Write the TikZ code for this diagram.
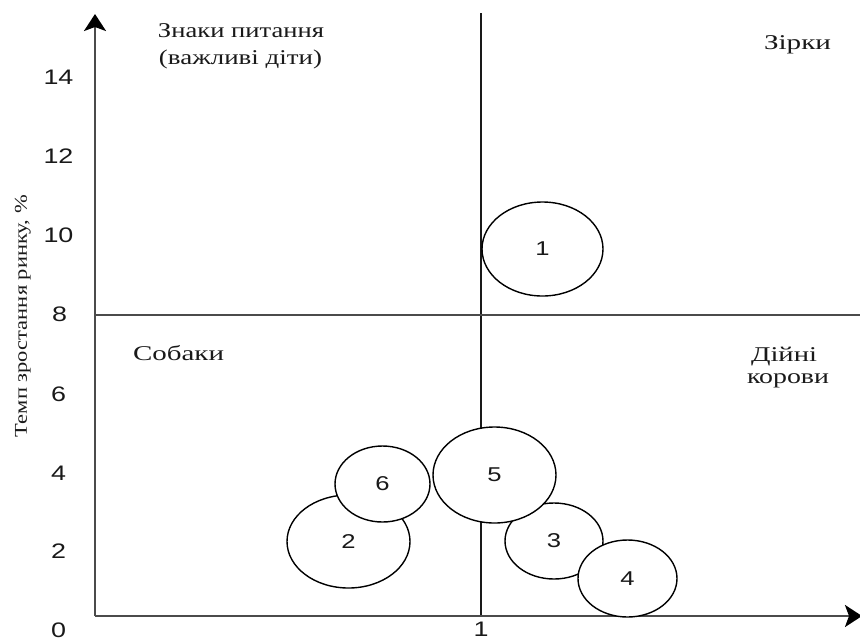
\documentclass[tikz,border=0pt]{standalone}
\usepackage{fontspec}
\setmainfont{Liberation Serif}
\newfontfamily\numfont{Liberation Sans}
\usetikzlibrary{shapes.geometric,arrows.meta}
\definecolor{axisgray}{RGB}{75,75,75}
\definecolor{txt}{RGB}{25,25,25}
\tikzset{
  axisline/.style={draw=axisgray, line width=2.5pt},
  divline/.style={draw=black!90, line width=1.7pt},
  bubble/.style={ellipse, draw=black, line width=1.4pt, fill=white, inner sep=0pt, text=txt,
    font=\numfont\fontsize{20}{20}\selectfont},
  ticklab/.style={inner sep=0pt, font=\numfont\fontsize{21}{21}\selectfont, text=txt},
  qlabel/.style={inner sep=0pt, anchor=base, font=\fontsize{21}{27}\selectfont, text=txt},
  axtip/.style={-{Stealth[length=17pt,width=22pt,inset=4pt,color=black]}},
}
\newcommand{\wx}[2]{\resizebox{#1pt}{\height}{#2}}
\newcommand{\dg}[1]{\scalebox{1.28}[1]{#1}}
\begin{document}
\begin{tikzpicture}[x=1pt,y=-1pt]
\useasboundingbox (0,0) rectangle (860,641);
\coordinate (O) at (95,616);
\coordinate (Ytop) at (95,14);
\coordinate (Xend) at (862,616);
\coordinate (Vtop) at (481,13);
\coordinate (Vbot) at (481,616);
\coordinate (Hl) at (95,315);
\coordinate (Hr) at (860,315);
\draw[divline] (Vtop) -- (Vbot);
\draw[axisline] (Hl) -- (Hr);
\draw[axisline, axtip] (O) -- (Ytop);
\draw[axisline, axtip] (O) -- (Xend);
% bubbles
\node[bubble, minimum width=121pt, minimum height=94pt] (e1) at (542.5,249) {\dg{1}};
\node[bubble, minimum width=123pt, minimum height=93pt] (e2) at (348.5,541.5) {\dg{2}};
\node[bubble, minimum width=95pt, minimum height=76pt] (e6) at (382.5,484) {\dg{6}};
\node[bubble, minimum width=98pt, minimum height=76pt] (e3) at (554,541) {\dg{3}};
\node[bubble, minimum width=99pt, minimum height=77pt] (e4) at (627.5,578.5) {\dg{4}};
\node[bubble, minimum width=123pt, minimum height=96pt] (e5) at (494.5,475) {\dg{5}};
% tick labels
\node[ticklab] (t14) at (58.5,77) {\dg{14}};
\node[ticklab] (t12) at (58.5,156) {\dg{12}};
\node[ticklab] (t10) at (58.5,235) {\dg{10}};
\node[ticklab] (t8) at (59.5,314) {\dg{8}};
\node[ticklab] (t6) at (58.5,394) {\dg{6}};
\node[ticklab] (t4) at (58.5,473) {\dg{4}};
\node[ticklab] (t2) at (58.5,551) {\dg{2}};
\node[ticklab] (t0) at (58.5,630) {\dg{0}};
\node[ticklab] (x1) at (481,629) {\dg{1}};
% quadrant labels
\node[qlabel] (q1a) at (241,37) {\wx{166}{Знаки питання}};
\node[qlabel] (q1b) at (240.5,64) {\wx{163}{(важливі діти)}};
\node[qlabel] (q2) at (797.5,49) {\wx{67}{Зірки}};
\node[qlabel] (q3) at (178.5,360) {\wx{91}{Собаки}};
\node[qlabel] (q4a) at (784,361) {\wx{66}{Дійні}};
\node[qlabel] (q4b) at (788,383) {\wx{82}{корови}};
% axis title
\node[qlabel, rotate=90, font=\fontsize{18}{18}\selectfont] (ylab) at (27,316) {\wx{242}{Темп зростання ринку, \%}};
\end{tikzpicture}
\end{document}
